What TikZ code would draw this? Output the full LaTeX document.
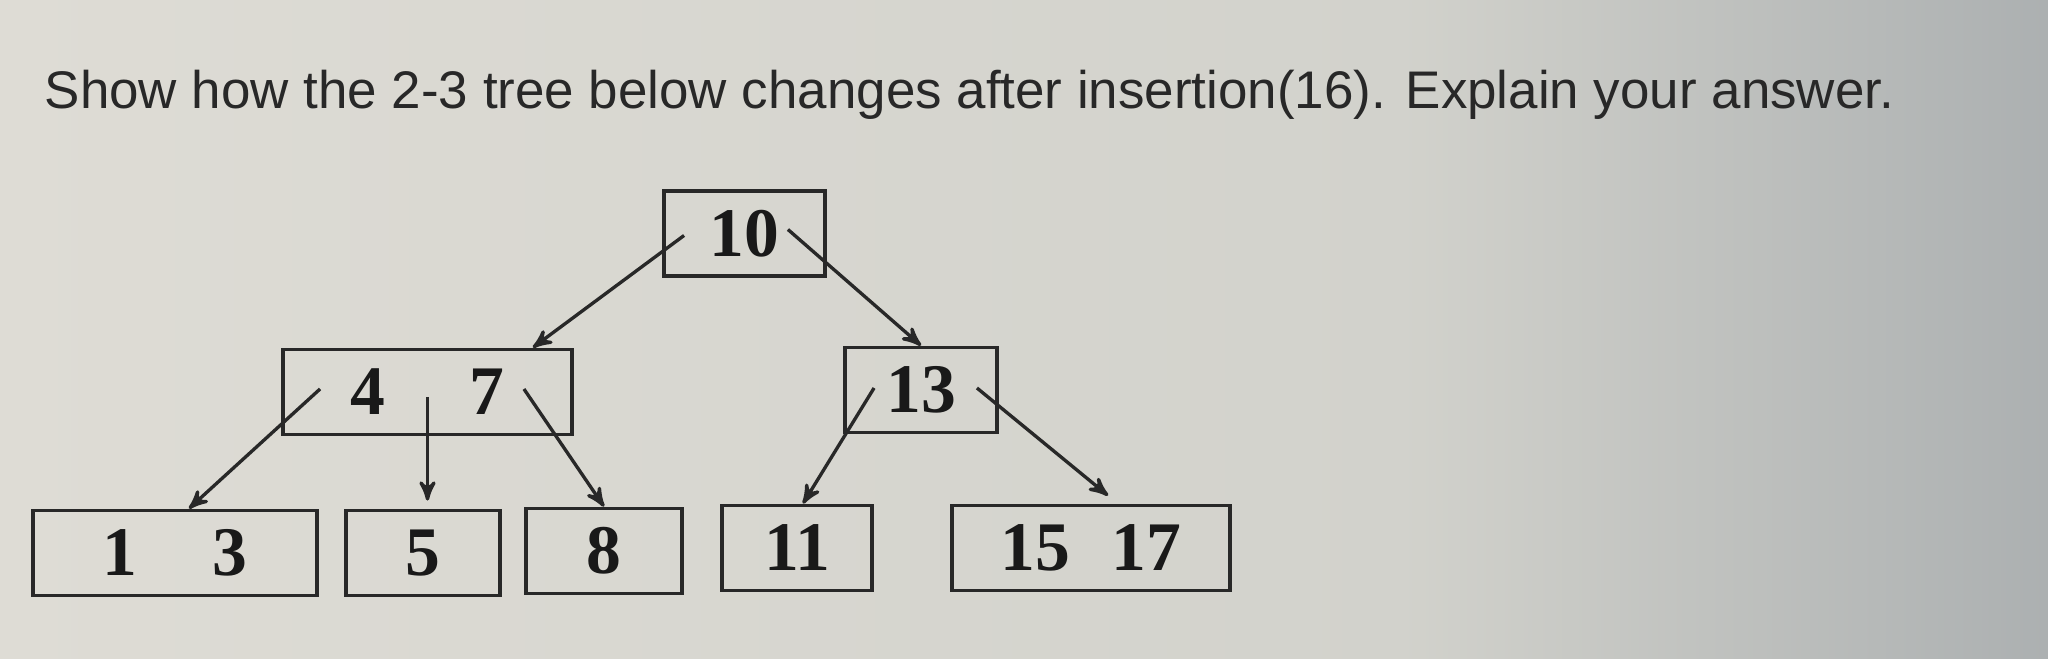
\documentclass[tikz,border=0pt]{standalone}
\usepackage{fontspec}
\setmainfont{Liberation Sans}
\newfontfamily\keyfont{Liberation Serif}
\usepackage{tikz}
\usetikzlibrary{arrows}
\definecolor{bgleft}{RGB}{222,220,213}
\definecolor{bgmid}{RGB}{210,210,204}
\definecolor{bgright}{RGB}{172,176,177}
\definecolor{ink}{RGB}{40,40,40}

\begin{document}
\begin{tikzpicture}
   [>=stealth',
    keybox/.style={draw=ink,line width=1.1pt,minimum height=0.85cm,inner sep=0pt,
       font=\keyfont\bfseries\fontsize{19.8}{24}\selectfont,text=black!90}]
   \useasboundingbox (0,0) rectangle (20.48,6.59);
   \shade[left color=bgleft,right color=bgmid] (0,0) rectangle (14,6.59);
   \shade[left color=bgmid,right color=bgright] (14,0) rectangle (20.48,6.59);

   \node (question) [anchor=base west,inner sep=0pt,text=ink,font=\fontsize{15.06}{18}\selectfont]
      at (0.44,5.50) {Show how the 2-3 tree below changes after insertion(16). Explain your answer.};

   \node (n10) [keybox,minimum width=1.61cm] at (7.445,4.255) {10};
   \node (n47) [keybox,minimum width=2.89cm] at (4.275,2.67) {4\hspace{1.2em}7};
   \node (n13) [keybox,minimum width=1.52cm] at (9.21,2.69) {13};
   \node (n1)  [keybox,minimum width=2.84cm] at (1.75,1.06) {1\hspace{1.08em}3};
   \node (n5)  [keybox,minimum width=1.54cm] at (4.23,1.06) {5};
   \node (n8)  [keybox,minimum width=1.56cm] at (6.04,1.08) {8};
   \node (n11) [keybox,minimum width=1.50cm] at (7.97,1.11) {11};
   \node (n15) [keybox,minimum width=2.78cm] at (10.91,1.11) {15\hspace{0.6em}17};

   \begin{scope}[->,line width=0.95pt,draw=ink]
      \draw ([xshift=0.22cm,yshift=-0.02cm]n10.west) -- ([xshift=-0.41cm]n47.north east);
      \draw ([xshift=-0.39cm,yshift=0.04cm]n10.east) -- (n13.north);
      \draw ([xshift=0.39cm,yshift=0.03cm]n47.west) -- ([xshift=0.14cm]n1.north);
      \draw[shorten <=0.05cm,shorten >=0.08cm] (n47.center) -- (n47.center |- n5.north);
      \draw ([xshift=-0.50cm,yshift=0.03cm]n47.east) -- (n8.north);
      \draw ([xshift=0.31cm,yshift=0.02cm]n13.west) -- ([xshift=0.06cm]n11.north);
      \draw ([xshift=-0.22cm,yshift=0.02cm]n13.east) -- ([xshift=0.17cm,yshift=0.08cm]n15.north);
   \end{scope}
\end{tikzpicture}
\end{document}
